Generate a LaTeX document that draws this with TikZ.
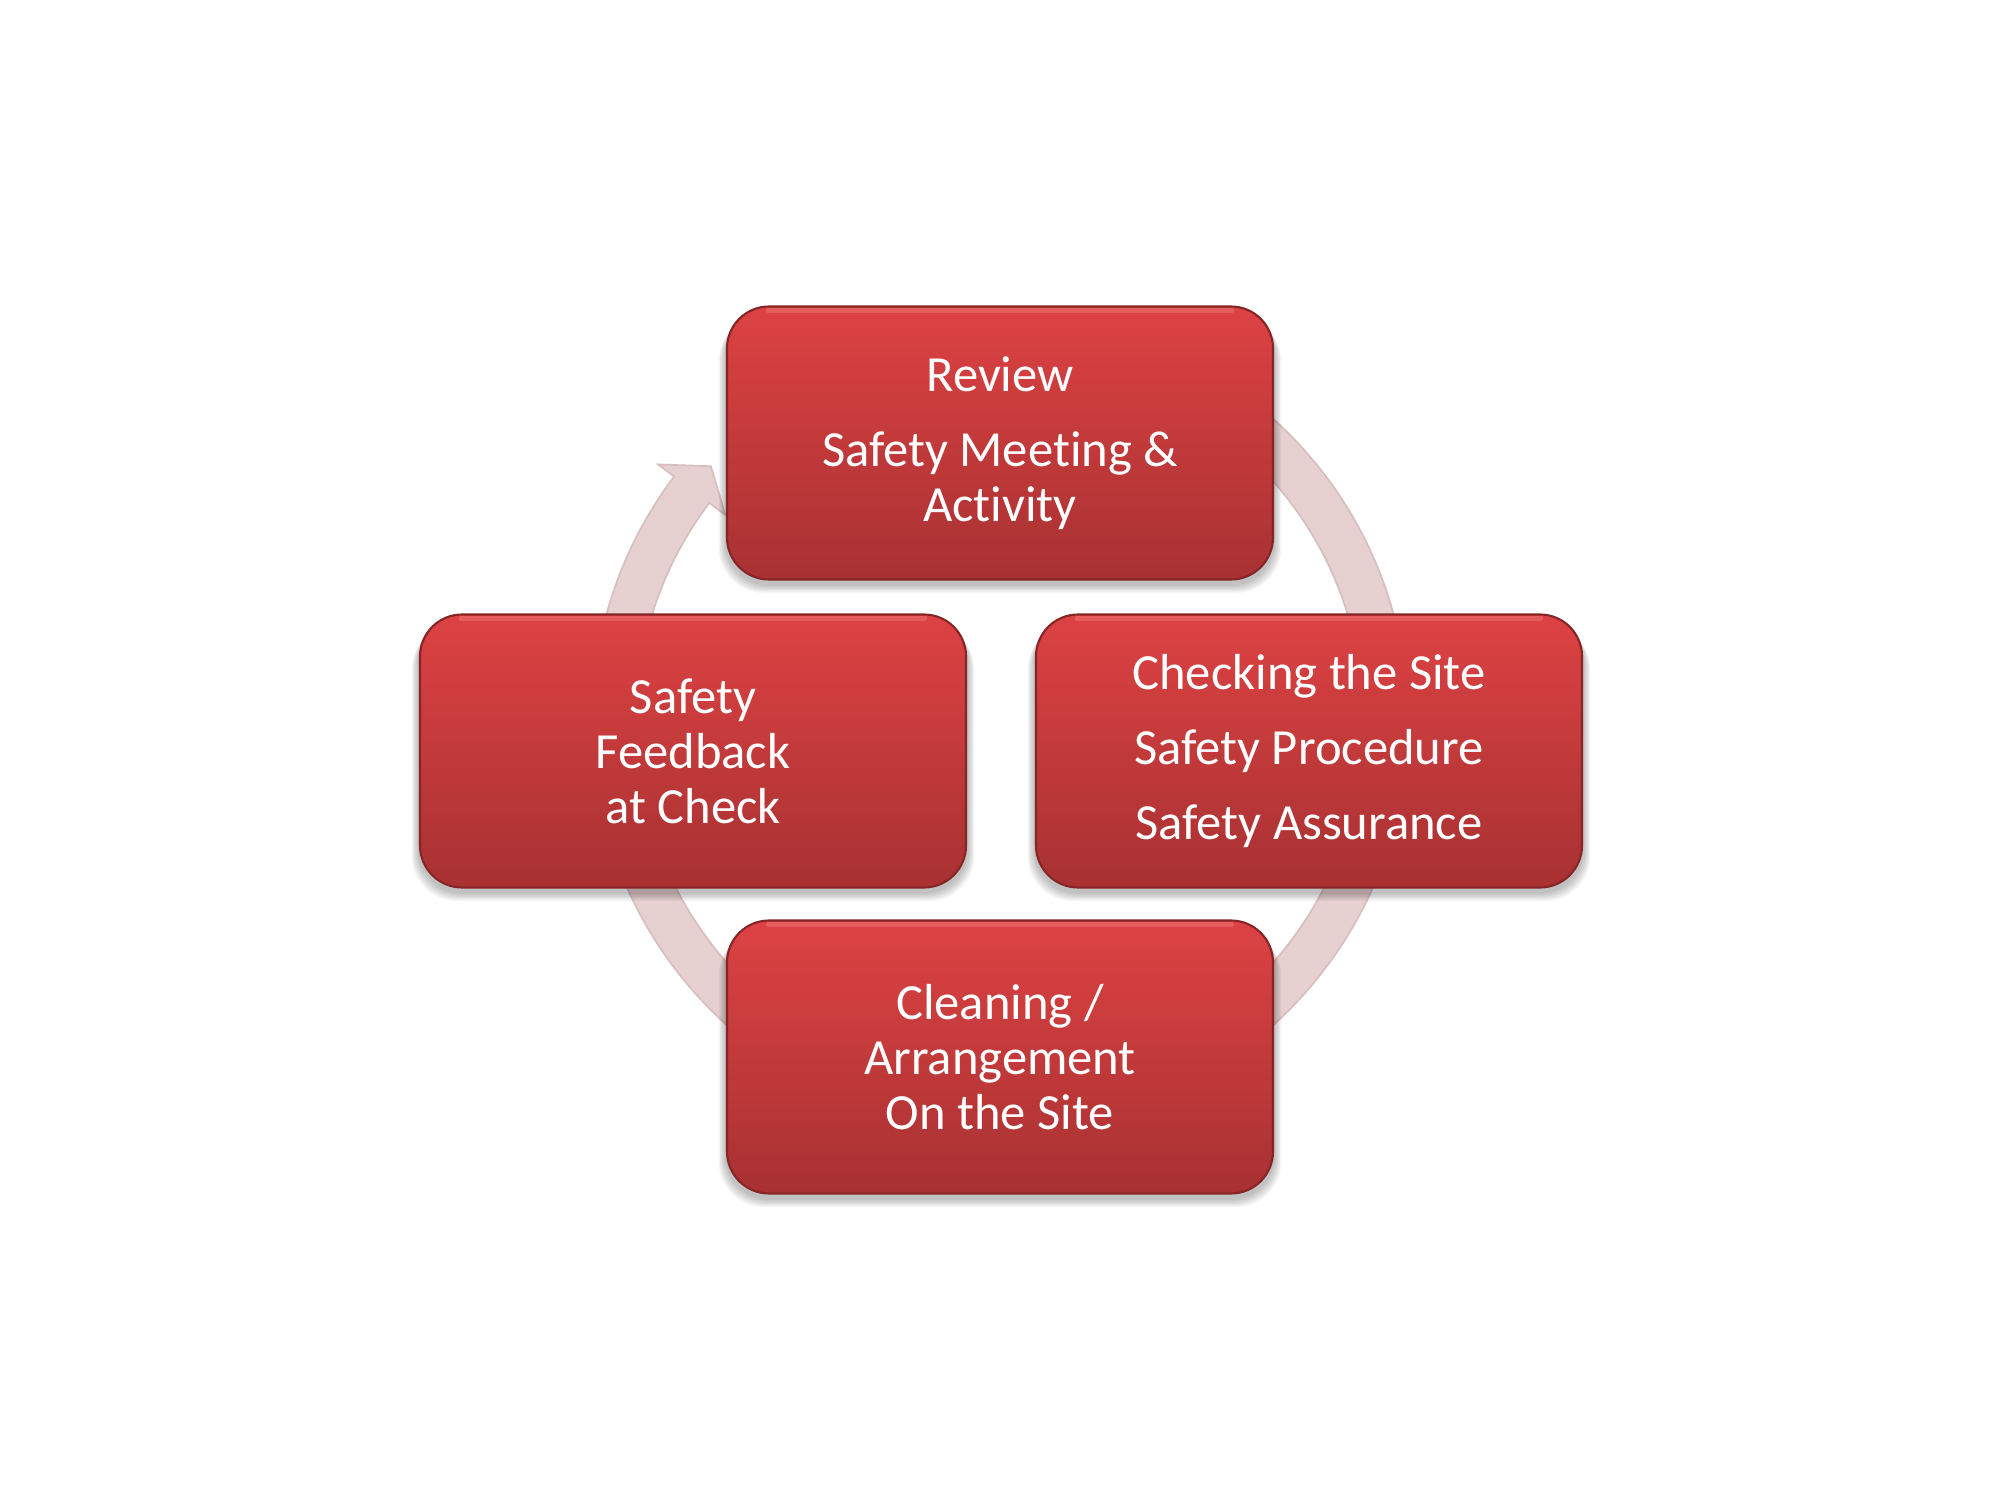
\documentclass[tikz,border=0pt]{standalone}
\usepackage{fontspec}
\setmainfont[Ligatures=NoCommon]{Carlito}
\definecolor{boxtop}{RGB}{221,66,67}
\definecolor{boxbot}{RGB}{168,49,50}
\definecolor{boxedge}{RGB}{135,36,37}
\definecolor{boxhi}{RGB}{238,110,110}
\definecolor{ringfill}{RGB}{231,208,208}
\definecolor{ringedge}{RGB}{216,192,192}
\pgfdeclarelayer{background}
\pgfsetlayers{background,main}
\begin{document}
\begin{tikzpicture}[
  stagebox/.style={rounded corners=0.42cm, minimum width=5.46cm, minimum height=2.73cm,
    inner sep=0pt, top color=boxtop, bottom color=boxbot, draw=boxedge, line width=0.6pt,
    text=white, align=center, font=\fontsize{14.4}{15.65}\selectfont},
  ringstyle/.style={fill=ringfill, draw=ringedge, line width=0.5pt},
  shadowstyle/.style={fill=black, opacity=0.045, rounded corners=0.45cm},
  hiline/.style={draw=boxhi, line width=1.2pt, line cap=round}
]
\useasboundingbox (0,0) rectangle (20,15);

\node[stagebox] (review) at (10,10.57) {Review\\[5.7pt]Safety Meet\kern0pt ing \&\\Act\kern0pt ivity};
\node[stagebox] (checking) at (13.09,7.49) {Checking the Site\\[5.7pt]Safety Procedure\\[5.7pt]Safety Assurance};
\node[stagebox] (feedback) at (6.93,7.49) {Safety\\Feedback\\at Check};
\node[stagebox] (cleaning) at (10,4.43) {Cleaning /\\Arrangement\\On the Site};

\foreach \n in {review,checking,feedback,cleaning}{
  \draw[hiline, opacity=0.6] ([xshift=0.42cm,yshift=-0.05cm]\n.north west) -- ([xshift=-0.42cm,yshift=-0.05cm]\n.north east);
}

\begin{pgfonlayer}{background}
  \fill[white] (0,0) rectangle (20,15);
  \coordinate (hub) at (10,7.78);
  \begin{scope}[shift={(hub)}]
    \filldraw[ringstyle] (100:4.08) arc[start angle=100, end angle=-217, radius=4.08]
      -- (-217:4.28) -- (-221.5:3.86) -- (-217:3.44) -- (-217:3.64)
      arc[start angle=-217, end angle=100, radius=3.64] -- cycle;
  \end{scope}
  \foreach \n in {review,checking,feedback,cleaning}{
    \foreach \k in {1,...,6}{
      \fill[shadowstyle] ([xshift=-\k*0.012cm, yshift=-0.04cm-\k*0.012cm]\n.north west)
        rectangle ([xshift=\k*0.012cm, yshift=-0.04cm-\k*0.014cm]\n.south east);
    }
  }
\end{pgfonlayer}
\end{tikzpicture}
\end{document}
